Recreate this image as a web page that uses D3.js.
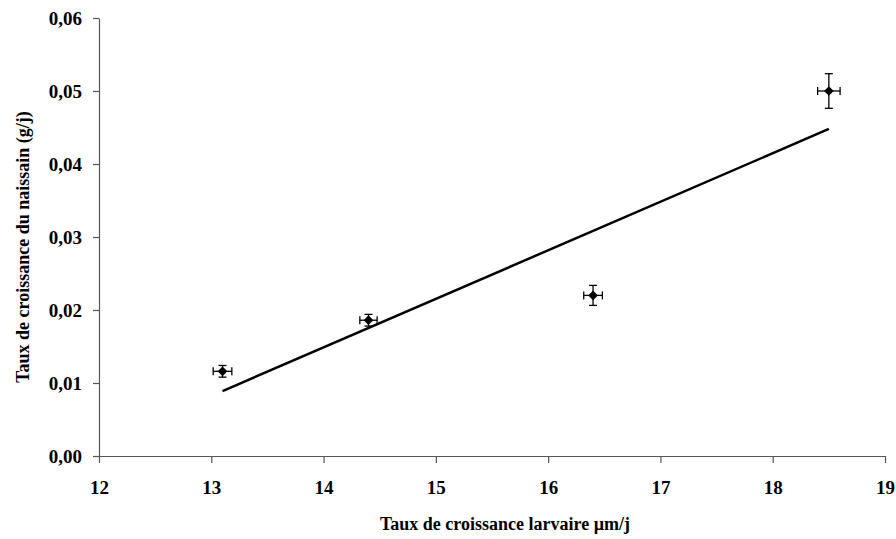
<!DOCTYPE html>
<html>
<head>
<meta charset="utf-8">
<script src="https://cdn.jsdelivr.net/npm/d3@7"></script>
<style>
  html, body { margin: 0; padding: 0; background: #fff; }
  svg { display: block; }
  text { font-family: "Liberation Serif", "Times New Roman", serif; font-weight: bold; fill: #000; }
</style>
</head>
<body>
<svg id="chart" width="896" height="539"></svg>
<script>
// Larval growth rate (µm/j) vs spat growth rate (g/j)
const larvalRate = [13.1, 14.4, 16.4, 18.5];
const spatRate   = [0.0116, 0.0186, 0.0220, 0.0500];
const larvalErr  = [0.083, 0.077, 0.083, 0.10];
const spatErr    = [0.0008, 0.0008, 0.00137, 0.00237];

// Linear trend line end points
const trendX = [13.1, 18.5];
const trendY = [0.0089, 0.0448];

const xTicks = [12, 13, 14, 15, 16, 17, 18, 19];
const yTicks = [0, 0.01, 0.02, 0.03, 0.04, 0.05, 0.06];

const xTitle = "Taux de croissance larvaire µm/j";
const yTitle = "Taux de croissance du naissain (g/j)";

const svg = d3.select("#chart");
const m = { left: 99, right: 885, top: 18, bottom: 456 };

const x = d3.scaleLinear().domain([12, 19]).range([m.left, m.right]);
const y = d3.scaleLinear().domain([0, 0.06]).range([m.bottom, m.top]);

const fmt = d => d3.format(".2f")(d).replace(".", ",");

// Axes
const xAxis = svg.append("g")
  .attr("transform", `translate(0,${m.bottom})`)
  .call(d3.axisBottom(x).tickValues(xTicks).tickSize(7).tickPadding(18).tickSizeOuter(0).tickFormat(d3.format("d")));
const yAxis = svg.append("g")
  .attr("transform", `translate(${m.left},0)`)
  .call(d3.axisLeft(y).tickValues(yTicks).tickSize(6).tickPadding(11).tickSizeOuter(0).tickFormat(fmt));

[xAxis, yAxis].forEach(a => {
  a.selectAll("path, line").attr("stroke", "#555").attr("stroke-width", 1.2);
  a.selectAll("text").style("font-size", "19px");
});

// Axis titles
svg.append("text")
  .attr("x", 505)
  .attr("y", 530)
  .attr("text-anchor", "middle")
  .style("font-size", "18px")
  .text(xTitle);
svg.append("text")
  .attr("transform", `translate(29,247) rotate(-90)`)
  .attr("text-anchor", "middle")
  .style("font-size", "18px")
  .text(yTitle);

// Trend line
svg.append("line")
  .attr("x1", x(trendX[0])).attr("y1", y(trendY[0]))
  .attr("x2", x(trendX[1])).attr("y2", y(trendY[1]))
  .attr("stroke", "#000").attr("stroke-width", 2.5);

// Points with error bars
const pts = larvalRate.map((v, i) => ({ x: v, y: spatRate[i], ex: larvalErr[i], ey: spatErr[i] }));
const cap = 4;
const g = svg.append("g").attr("stroke", "#000").attr("stroke-width", 1.3);
pts.forEach(p => {
  const cx = x(p.x), cy = y(p.y);
  const x0 = x(p.x - p.ex), x1 = x(p.x + p.ex);
  const y0 = y(p.y - p.ey), y1 = y(p.y + p.ey);
  g.append("line").attr("x1", x0).attr("x2", x1).attr("y1", cy).attr("y2", cy);
  g.append("line").attr("x1", x0).attr("x2", x0).attr("y1", cy - cap).attr("y2", cy + cap);
  g.append("line").attr("x1", x1).attr("x2", x1).attr("y1", cy - cap).attr("y2", cy + cap);
  g.append("line").attr("x1", cx).attr("x2", cx).attr("y1", y0).attr("y2", y1);
  g.append("line").attr("x1", cx - cap).attr("x2", cx + cap).attr("y1", y0).attr("y2", y0);
  g.append("line").attr("x1", cx - cap).attr("x2", cx + cap).attr("y1", y1).attr("y2", y1);
});
svg.append("g").selectAll("path").data(pts).join("path")
  .attr("d", d3.symbol(d3.symbolDiamond2, 60))
  .attr("transform", d => `translate(${x(d.x)},${y(d.y)})`)
  .attr("fill", "#000");
</script>
</body>
</html>
